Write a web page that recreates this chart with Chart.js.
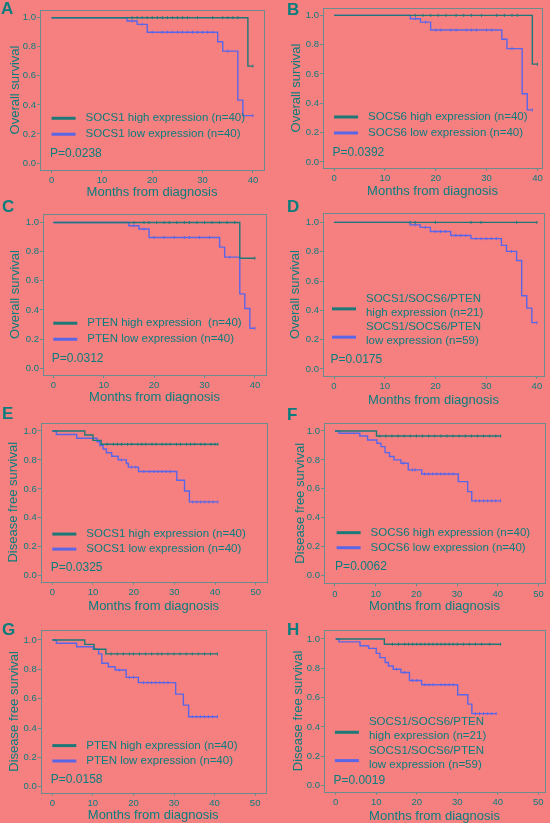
<!DOCTYPE html>
<html>
<head>
<meta charset="utf-8">
<script src="https://cdn.jsdelivr.net/npm/chart.js@4.4.1/dist/chart.umd.min.js"></script>
<style>
  html, body { margin: 0; padding: 0; background: #f68080; }
  #fig { position: relative; width: 550px; height: 823px; overflow: hidden; background: #f68080; }
  #fig canvas { position: absolute; }
  .tag { position: absolute; font: bold 17px "Liberation Sans", Arial, sans-serif; line-height: 17px; color: #0b7d7d; }
</style>
</head>
<body>
<div id="fig"></div>
<script>
// ticks
const osTicks = [0, 10, 20, 30, 40];
const dfsTicks = [0, 10, 20, 30, 40, 50];
const survTicks = [0, 0.2, 0.4, 0.6, 0.8, 1.0];

// A - SOCS1, overall survival (times in months, survival fraction)
const aHighT = [0, 39, 40];
const aHighS = [1, 0.667, 0.667];
const aHighC = [16, 17, 18, 19, 20, 21, 22, 23, 24, 25, 26, 27, 29, 32, 34, 35, 36, 37, 40];
const aLowT = [0, 15, 17, 19, 33, 34, 37, 38, 40];
const aLowS = [1, 0.977, 0.954, 0.900, 0.835, 0.770, 0.433, 0.326, 0.326];
const aLowC = [16, 18, 20, 22, 23, 24, 25, 26, 27, 28, 29, 30, 31, 32, 35, 40];

// B - SOCS6, overall survival
const bHighT = [0, 39, 40];
const bHighS = [1, 0.667, 0.667];
const bHighC = [16, 17.5, 19, 20.5, 22, 24, 25.5, 27, 29, 32, 33.5, 35, 36, 40];
const bLowT = [0, 15, 17, 19, 33, 34, 37, 38, 39];
const bLowS = [1, 0.977, 0.954, 0.900, 0.837, 0.773, 0.465, 0.355, 0.355];
const bLowC = [16, 18, 20, 21, 23, 24, 26, 27, 28, 30, 31, 35, 39];

// C - PTEN, overall survival
const cHighT = [0, 37, 40];
const cHighS = [1, 0.755, 0.755];
const cHighC = [16, 18, 19, 20.5, 22, 23, 24.5, 26, 27, 28.5, 30, 31.5, 33, 34.5, 36, 40];
const cLowT = [0, 15, 17, 19, 33, 34, 37, 38, 39, 40];
const cLowS = [1, 0.977, 0.955, 0.897, 0.831, 0.762, 0.51, 0.41, 0.275, 0.275];
const cLowC = [16, 18, 20, 22, 24, 26, 27, 29, 31, 35, 40];

// D - combined, overall survival
const dHighT = [0, 40];
const dHighS = [1, 1];
const dHighC = [15, 16, 20, 27, 29, 36, 40];
const dLowT = [0, 15, 17, 19, 23, 27, 33, 34, 36, 37, 38, 39, 40];
const dLowS = [1, 0.983, 0.966, 0.938, 0.911, 0.889, 0.843, 0.802, 0.74, 0.499, 0.415, 0.316, 0.316];
const dLowC = [16, 18, 20, 21, 22, 24, 25, 26, 28, 29, 30, 31, 32, 35, 40];

// E - SOCS1, disease free survival
const eHighT = [0, 8, 10, 12, 40.7];
const eHighS = [1, 0.972, 0.935, 0.908, 0.908];
const eHighC = [13.5, 15, 16, 17, 18.5, 19.5, 21, 22, 23, 24.5, 25.5, 27, 28, 29, 30.5, 31.5, 33, 34, 35, 36.5, 37.5, 39, 40, 40.7];
const eLowT = [0, 1, 6, 11, 11.7, 12.5, 13.3, 14.6, 16.2, 18.2, 18.7, 21.2, 30.6, 32.5, 33.7, 40.7];
const eLowS = [1, 0.975, 0.95, 0.925, 0.90, 0.875, 0.85, 0.825, 0.80, 0.775, 0.75, 0.72, 0.66, 0.585, 0.51, 0.51];
const eLowC = [17, 19.5, 20.5, 22.5, 24, 25, 26, 27, 28, 29, 34.5, 35.5, 36.5, 37.5, 38.5, 39.5, 40.7];

// F - SOCS6, disease free survival
const fHighT = [0, 10.2, 40.7];
const fHighS = [1, 0.965, 0.965];
const fHighC = [11, 12.5, 14, 15.5, 17, 18.5, 20, 21.5, 23, 24.5, 26, 27.5, 29, 30.5, 32, 33.5, 35, 36.5, 38, 39.5, 40.7];
const fLowT = [0, 1, 6.1, 8, 10.3, 11.3, 12.3, 13.4, 14.5, 16.2, 18, 21.3, 30.3, 32.6, 33.6, 40.7];
const fLowS = [1, 0.984, 0.965, 0.938, 0.915, 0.892, 0.85, 0.823, 0.80, 0.777, 0.731, 0.703, 0.65, 0.581, 0.517, 0.517];
const fLowC = [16.8, 19, 19.7, 22, 23, 24, 25, 26, 27, 28, 29, 34.5, 35.5, 36.5, 37.5, 38.5, 39.5, 40.7];

// G - PTEN, disease free survival
const gHighT = [0, 8, 10.3, 13.2, 40.7];
const gHighS = [1, 0.97, 0.937, 0.905, 0.905];
const gHighC = [14.5, 16, 17.5, 19, 20, 21.5, 23, 24.5, 26, 27, 28.5, 30, 31.5, 33, 34.5, 36, 37.5, 39, 40.7];
const gLowT = [0, 1, 6, 10.1, 11.4, 12.2, 13.8, 15.5, 18.2, 21.2, 30.4, 32.3, 33.6, 40.7];
const gLowS = [1, 0.978, 0.954, 0.937, 0.905, 0.841, 0.818, 0.795, 0.745, 0.709, 0.631, 0.556, 0.477, 0.477];
const gLowC = [16.5, 19, 20, 22.5, 23.5, 24.5, 25.5, 26.5, 27.5, 28.5, 34.5, 35.5, 36.5, 37.5, 38.5, 39.5, 40.7];

// H - combined, disease free survival
const hHighT = [0, 12, 40.7];
const hHighS = [1, 0.964, 0.964];
const hHighC = [14, 15.5, 17, 18, 19, 20, 21, 22, 23, 24, 25, 26, 27, 28, 29, 30, 31.5, 33, 34.5, 36, 38, 40.7];
const hLowT = [0, 0.8, 6, 8.1, 10, 10.9, 12.2, 13, 14.2, 16.1, 18.2, 21.2, 30.1, 32.6, 33.6, 39.6];
const hLowS = [1, 0.98, 0.954, 0.936, 0.902, 0.873, 0.839, 0.816, 0.794, 0.771, 0.717, 0.688, 0.62, 0.556, 0.491, 0.491];
const hLowC = [15, 17, 19, 20, 22, 23, 24, 26, 27, 28, 29, 34.5, 35.5, 36.5, 37.5, 38.5, 39.6];

const OS = 'Overall survival';
const DFS = 'Disease free survival';
const COMBO = 'SOCS1/SOCS6/PTEN';

const TEAL = '#0b7d7d';
const HIGH_COL = '#1d7878';
const LOW_COL = '#5a66e8';
const FRAME_COL = '#6a8c8c';
const FONT = '"Liberation Sans", Arial, sans-serif';

// layout of each panel (cell position, plot box inside cell, axis ranges, legend spots)
const panels = [
  { tag: 'A', tagPos: [1, 0], cell: [0, 0, 205], box: [40, 10, 264, 170], xr: [-2.3, 42.2], yr: [-0.048, 1.053],
    ticks: osTicks, ytitle: OS, yTitleX: 15, xTitleY: 192.7,
    high: [aHighT, aHighS, aHighC], low: [aLowT, aLowS, aLowC],
    hiLabel: ['SOCS1 high expression (n=40)'], loLabel: ['SOCS1 low expression (n=40)'], p: 'P=0.0238',
    leg: { x: 0, hi: 0.308, lo: 0.198, p: 0.062 } },
  { tag: 'B', tagPos: [287, 1], cell: [275, 0, 205], box: [48, 8, 267, 168], xr: [-2.17, 40.9], yr: [-0.041, 1.05],
    ticks: osTicks, ytitle: OS, yTitleX: 21.5, xTitleY: 191.7,
    high: [bHighT, bHighS, bHighC], low: [bLowT, bLowS, bLowC],
    hiLabel: ['SOCS6 high expression (n=40)'], loLabel: ['SOCS6 low expression (n=40)'], p: 'P=0.0392',
    leg: { x: 0, hi: 0.307, lo: 0.198, p: 0.065 } },
  { tag: 'C', tagPos: [2, 198], cell: [0, 205, 205], box: [43, 9, 266, 170], xr: [-2.04, 42.2], yr: [-0.046, 1.058],
    ticks: osTicks, ytitle: OS, yTitleX: 15, xTitleY: 192.7,
    high: [cHighT, cHighS, cHighC], low: [cLowT, cLowS, cLowC],
    hiLabel: ['PTEN high expression  (n=40)'], loLabel: ['PTEN low expression (n=40)'], p: 'P=0.0312',
    leg: { x: 0, hi: 0.309, lo: 0.199, p: 0.064 } },
  { tag: 'D', tagPos: [287, 198], cell: [275, 205, 205], box: [48, 8, 269, 171], xr: [-2.17, 41.4], yr: [-0.048, 1.064],
    ticks: osTicks, ytitle: OS, yTitleX: 20, xTitleY: 195,
    high: [dHighT, dHighS, dHighC], low: [dLowT, dLowS, dLowC],
    hiLabel: [COMBO, 'high expression (n=21)'], loLabel: [COMBO, 'low expression (n=59)'], p: 'P=0.0175',
    leg: { x: -0.4, hi: 0.41, lo: 0.217, p: 0.062 } },
  { tag: 'E', tagPos: [2, 405], cell: [0, 410, 205], box: [40.7, 12.7, 266.7, 171.7], xr: [-2.85, 52.7], yr: [-0.041, 1.057],
    ticks: dfsTicks, ytitle: DFS, yTitleX: 13.5, xTitleY: 196,
    high: [eHighT, eHighS, eHighC], low: [eLowT, eLowS, eLowC],
    hiLabel: ['SOCS1 high expression (n=40)'], loLabel: ['SOCS1 low expression (n=40)'], p: 'P=0.0325',
    leg: { x: 0, hi: 0.288, lo: 0.184, p: 0.055 } },
  { tag: 'F', tagPos: [287, 406], cell: [275, 410, 205], box: [49, 13.3, 270, 173.3], xr: [-2.7, 51.6], yr: [-0.053, 1.053],
    ticks: dfsTicks, ytitle: DFS, yTitleX: 25, xTitleY: 196.7,
    high: [fHighT, fHighS, fHighC], low: [fLowT, fLowS, fLowC],
    hiLabel: ['SOCS6 high expression (n=40)'], loLabel: ['SOCS6 low expression (n=40)'], p: 'P=0.0062',
    leg: { x: 0.4, hi: 0.297, lo: 0.193, p: 0.062 } },
  { tag: 'G', tagPos: [2, 621], cell: [0, 615, 208], box: [40.7, 15, 265.7, 177.7], xr: [-2.86, 52.6], yr: [-0.041, 1.068],
    ticks: dfsTicks, ytitle: DFS, yTitleX: 14, xTitleY: 200,
    high: [gHighT, gHighS, gHighC], low: [gLowT, gLowS, gLowC],
    hiLabel: ['PTEN high expression (n=40)'], loLabel: ['PTEN low expression (n=40)'], p: 'P=0.0158',
    leg: { x: 0, hi: 0.28, lo: 0.175, p: 0.045 } },
  { tag: 'H', tagPos: [287, 621], cell: [275, 615, 208], box: [49, 15, 270, 176.7], xr: [-2.89, 51.65], yr: [-0.041, 1.061],
    ticks: dfsTicks, ytitle: DFS, yTitleX: 23.3, xTitleY: 201,
    high: [hHighT, hHighS, hHighC], low: [hLowT, hLowS, hLowC],
    hiLabel: [COMBO, 'high expression (n=21)'], loLabel: [COMBO, 'low expression (n=59)'], p: 'P=0.0019',
    leg: { x: -0.2, hi: 0.364, lo: 0.171, p: 0.034 } }
];

// survival value at time t (step function read from the arrays)
function survAt(T, S, t) {
  let v = S[0];
  for (let i = 0; i < T.length; i++) if (T[i] <= t) v = S[i];
  return v;
}

function curve(T, S) {
  return T.map((t, i) => ({ x: t, y: S[i] }));
}

function censors(T, S, C) {
  return C.map(t => ({ x: t, y: survAt(T, S, t) }));
}

// box around the plot area
const framePlugin = {
  id: 'frame',
  afterDraw(chart) {
    const a = chart.chartArea, ctx = chart.ctx;
    ctx.save();
    ctx.strokeStyle = FRAME_COL;
    ctx.lineWidth = 1;
    ctx.strokeRect(Math.round(a.left) + 0.5, Math.round(a.top) + 0.5,
      Math.round(a.right - a.left), Math.round(a.bottom - a.top));
    ctx.restore();
  }
};

// legend + p value inside the plot
const kmLegend = {
  id: 'kmLegend',
  afterDraw(chart, args, opts) {
    const { ctx, scales: { x, y } } = chart;
    const x0 = x.getPixelForValue(opts.x);
    ctx.save();
    ctx.textBaseline = 'middle';
    ctx.textAlign = 'left';
    opts.items.forEach(it => {
      const yy = y.getPixelForValue(it.y);
      ctx.strokeStyle = it.color;
      ctx.lineWidth = 3;
      ctx.beginPath();
      ctx.moveTo(x0, yy);
      ctx.lineTo(x0 + 24, yy);
      ctx.stroke();
      ctx.fillStyle = TEAL;
      ctx.font = '11.5px ' + FONT;
      const n = it.text.length;
      const mid = n > 1 ? yy - 3 : yy;
      it.text.forEach((line, k) => {
        ctx.fillText(line, x0 + 34, mid + (k - (n - 1) / 2) * 14);
      });
    });
    ctx.font = '12px ' + FONT;
    ctx.fillText(opts.p, x0 - 1.5, y.getPixelForValue(opts.pY));
    ctx.restore();
  }
};

const fig = document.getElementById('fig');

panels.forEach(p => {
  const [cx, cy, ch] = p.cell;
  const cw = 275;
  const [bl, bt, br, bb] = p.box;

  const tag = document.createElement('div');
  tag.className = 'tag';
  tag.textContent = p.tag;
  tag.style.left = p.tagPos[0] + 'px';
  tag.style.top = p.tagPos[1] + 'px';

  const cv = document.createElement('canvas');
  cv.width = cw; cv.height = ch;
  cv.style.left = cx + 'px'; cv.style.top = cy + 'px';
  cv.style.width = cw + 'px'; cv.style.height = ch + 'px';
  fig.appendChild(cv);
  fig.appendChild(tag);

  const [hT, hS, hC] = p.high;
  const [lT, lS, lC] = p.low;

  new Chart(cv.getContext('2d'), {
    type: 'line',
    data: {
      datasets: [
        { label: p.hiLabel.join(' '), data: curve(hT, hS), stepped: 'before', borderColor: HIGH_COL, borderWidth: 1.4, pointRadius: 0, fill: false },
        { label: p.loLabel.join(' '), data: curve(lT, lS), stepped: 'before', borderColor: LOW_COL, borderWidth: 1.4, pointRadius: 0, fill: false },
        { label: 'censored high', data: censors(hT, hS, hC), showLine: false, pointStyle: 'line', rotation: 90, pointRadius: 1.5, pointBorderWidth: 1, borderColor: HIGH_COL, backgroundColor: HIGH_COL },
        { label: 'censored low', data: censors(lT, lS, lC), showLine: false, pointStyle: 'line', rotation: 90, pointRadius: 1.5, pointBorderWidth: 1, borderColor: LOW_COL, backgroundColor: LOW_COL }
      ]
    },
    options: {
      responsive: false,
      animation: false,
      events: [],
      layout: { padding: { left: 0, top: bt, right: cw - br, bottom: 0 } },
      plugins: {
        legend: { display: false },
        tooltip: { enabled: false },
        kmLegend: {
          x: p.leg.x, pY: p.leg.p, p: p.p,
          items: [
            { text: p.hiLabel, color: HIGH_COL, y: p.leg.hi },
            { text: p.loLabel, color: LOW_COL, y: p.leg.lo }
          ]
        }
      },
      scales: {
        x: {
          type: 'linear', min: p.xr[0], max: p.xr[1],
          afterBuildTicks: s => { s.ticks = p.ticks.map(v => ({ value: v })); },
          afterFit: s => { s.height = ch - bb; },
          grid: { drawOnChartArea: false, drawTicks: true, tickLength: 3, color: FRAME_COL },
          border: { display: false },
          ticks: { autoSkip: false, maxRotation: 0, padding: 2, color: TEAL, font: { family: FONT, size: 9.5 } },
          title: { display: true, text: 'Months from diagnosis', color: TEAL,
                   font: { family: FONT, size: 13 }, padding: { top: 0, bottom: ch - p.xTitleY - 7.8 } }
        },
        y: {
          type: 'linear', min: p.yr[0], max: p.yr[1],
          afterBuildTicks: s => { s.ticks = survTicks.map(v => ({ value: v })); },
          afterFit: s => { s.width = bl; },
          grid: { drawOnChartArea: false, drawTicks: true, tickLength: 3, color: FRAME_COL },
          border: { display: false },
          ticks: { autoSkip: false, padding: 1, color: TEAL, font: { family: FONT, size: 9.5 },
                   callback: v => v.toFixed(1) },
          title: { display: true, text: p.ytitle, color: TEAL,
                   font: { family: FONT, size: 13 }, padding: { top: p.yTitleX - 7.8, bottom: 0 } }
        }
      }
    },
    plugins: [framePlugin, kmLegend]
  });
});
</script>
</body>
</html>
